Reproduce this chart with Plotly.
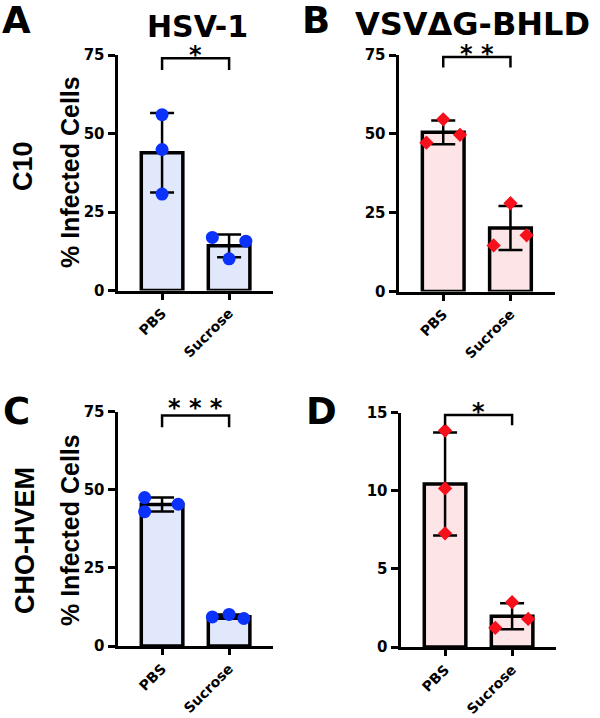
import numpy as np
import plotly.graph_objects as go

# ---------------- data ----------------
categories = ["PBS", "Sucrose"]

# Panel A: HSV-1 on C10 cells
a_pbs = [56.0, 44.9, 30.7]
a_suc = [16.9, 10.1, 15.7]
# Panel B: VSVΔG-BHLD on C10 cells
b_pbs = [54.6, 47.2, 49.7]
b_suc = [28.0, 14.6, 17.8]
# Panel C: HSV-1 on CHO-HVEM cells
c_pbs = [47.5, 43.0, 45.4]
c_suc = [9.3, 10.1, 8.8]
# Panel D: VSVΔG-BHLD on CHO-HVEM cells
d_pbs = [13.86, 10.15, 7.28]
d_suc = [2.87, 1.80, 1.23]

y_ticks_75 = [0, 25, 50, 75]
y_ticks_15 = [0, 5, 10, 15]
sig_labels = ["*", "* *", "* * *", "*"]
panel_letters = ["A", "B", "C", "D"]
col_titles = ["HSV-1", "VSVΔG-BHLD"]
row_titles = ["C10", "CHO-HVEM"]
y_title = "% Infected Cells"

# ---------------- styling / layout helpers ----------------
W, H = 600, 718
BLUE_FILL = "#e2e8fb"
PINK_FILL = "#fde5e7"
BLUE_DOT = "#0a32fa"
RED_DOT = "#f5101c"

# horizontal jitter of the replicate points (category units)
jit = {
    "A": ([0, 0, 0], [-0.25, 0, 0.25]),
    "B": ([0, -0.25, 0.25], [0, -0.25, 0.24]),
    "C": ([-0.26, -0.26, 0.24], [-0.25, 0, 0.22]),
    "D": ([0, 0, 0], [0, 0.24, -0.25]),
}

panels = [
    dict(key="A", pbs=a_pbs, suc=a_suc, fill=BLUE_FILL, dot=BLUE_DOT, sym="circle", msize=13,
         ticks=y_ticks_75, xd=(117.5, 273), yd=(55, 290.5), br=(70.2, 74.0), gap=8),
    dict(key="B", pbs=b_pbs, suc=b_suc, fill=PINK_FILL, dot=RED_DOT, sym="diamond", msize=11,
         ticks=y_ticks_75, xd=(398.5, 554.5), yd=(55, 291.5), br=(71.0, 74.4), gap=8),
    dict(key="C", pbs=c_pbs, suc=c_suc, fill=BLUE_FILL, dot=BLUE_DOT, sym="circle", msize=13,
         ticks=y_ticks_75, xd=(117.5, 273), yd=(411.7, 646), br=(70.0, 73.8), gap=12),
    dict(key="D", pbs=d_pbs, suc=d_suc, fill=PINK_FILL, dot=RED_DOT, sym="diamond", msize=11,
         ticks=y_ticks_15, xd=(400.5, 556), yd=(412.7, 647), br=(14.2, 14.85), gap=8),
]

def fx(px):
    return px / W

def fy(py):
    return 1 - py / H

fig = go.Figure()
shapes = []
annotations = []
ytick_font = dict(family="DejaVu Sans", size=15, color="black", weight="bold")
xtick_font = dict(family="DejaVu Sans", size=14, color="black", weight="bold")

for i, p in enumerate(panels):
    n = "" if i == 0 else str(i + 1)
    xa, ya = "x" + n, "y" + n
    vals = [p["pbs"], p["suc"]]
    means = [float(np.mean(v)) for v in vals]
    sds = [float(np.std(v, ddof=1)) for v in vals]

    fig.add_trace(go.Bar(
        x=[0, 1], y=means, width=0.62, xaxis=xa, yaxis=ya,
        marker=dict(color=p["fill"], line=dict(color="black", width=3.5)),
        error_y=dict(type="data", array=sds, visible=True, color="black", thickness=2.5, width=12),
        showlegend=False, hoverinfo="skip",
    ))
    jp, js = jit[p["key"]]
    xs = [0 + o for o in jp] + [1 + o for o in js]
    ys = list(p["pbs"]) + list(p["suc"])
    fig.add_trace(go.Scatter(
        x=xs, y=ys, mode="markers", xaxis=xa, yaxis=ya,
        marker=dict(symbol=p["sym"], size=p["msize"], color=p["dot"], line=dict(width=0)),
        showlegend=False, hoverinfo="skip", cliponaxis=False,
    ))

    ymax = p["ticks"][-1]
    fig.layout["xaxis" + n] = dict(
        domain=[fx(p["xd"][0]), fx(p["xd"][1])], anchor=ya, automargin=False,
        range=[-0.665, 1.655], tickvals=[0, 1], ticktext=categories, tickangle=-45,
        showline=True, linecolor="black", linewidth=3, ticks="outside", ticklen=6,
        tickwidth=3, tickcolor="black", showgrid=False, zeroline=False, tickfont=xtick_font,
        fixedrange=True,
    )
    fig.layout["yaxis" + n] = dict(
        domain=[fy(p["yd"][1]), fy(p["yd"][0])], anchor=xa, automargin=False,
        range=[0, ymax], tickvals=p["ticks"],
        showline=True, linecolor="black", linewidth=3, ticks="outside", ticklen=7,
        tickwidth=3, tickcolor="black", showgrid=False, zeroline=False, tickfont=ytick_font,
        fixedrange=True,
    )

    lo, hi = p["br"]
    shapes.append(dict(
        type="path", xref=xa, yref=ya,
        path=f"M 0 {lo} L 0 {hi} L 1 {hi} L 1 {lo}",
        line=dict(color="black", width=2.5), layer="above",
    ))
    annotations.append(dict(
        x=0.5, y=hi, xref=xa, yref=ya, text=sig_labels[i], showarrow=False,
        yanchor="middle", yshift=p["gap"] - 5,
        font=dict(family="DejaVu Sans", size=24, color="black", weight="bold"),
    ))

# panel letters
for letter, (cx, cy) in zip(panel_letters, [(16, 20), (316, 20), (16, 411), (321, 411)]):
    annotations.append(dict(
        x=fx(cx), y=fy(cy), xref="paper", yref="paper", text=letter, showarrow=False,
        xanchor="center", yanchor="middle",
        font=dict(family="DejaVu Sans", size=37, color="black", weight="bold"),
    ))

# column titles
for t, (cx, cy, fs) in zip(col_titles, [(197, 26, 30), (472, 24, 32)]):
    annotations.append(dict(
        x=fx(cx), y=fy(cy), xref="paper", yref="paper", text=t, showarrow=False,
        xanchor="center", yanchor="middle",
        font=dict(family="DejaVu Sans", size=fs, color="black", weight="bold"),
    ))

# row titles
for t, (cx, cy) in zip(row_titles, [(23, 166), (25, 541)]):
    annotations.append(dict(
        x=fx(cx), y=fy(cy), xref="paper", yref="paper", text=t, showarrow=False,
        textangle=-90, xanchor="center", yanchor="middle",
        font=dict(family="Liberation Sans", size=27, color="black", weight="bold"),
    ))

# y-axis titles
for cy in [172, 530]:
    annotations.append(dict(
        x=fx(70), y=fy(cy), xref="paper", yref="paper", text=y_title, showarrow=False,
        textangle=-90, xanchor="center", yanchor="middle",
        font=dict(family="Liberation Sans", size=25, color="black", weight="bold"),
    ))

fig.update_layout(
    width=W, height=H, margin=dict(l=0, r=0, t=0, b=0, autoexpand=False),
    paper_bgcolor="white", plot_bgcolor="white",
    shapes=shapes, annotations=annotations, showlegend=False, barmode="overlay",
)

fig.write_html(
    "out.html",
    config={"displayModeBar": False},
    post_script="document.body.style.margin='0';document.body.style.overflow='hidden';",
)
